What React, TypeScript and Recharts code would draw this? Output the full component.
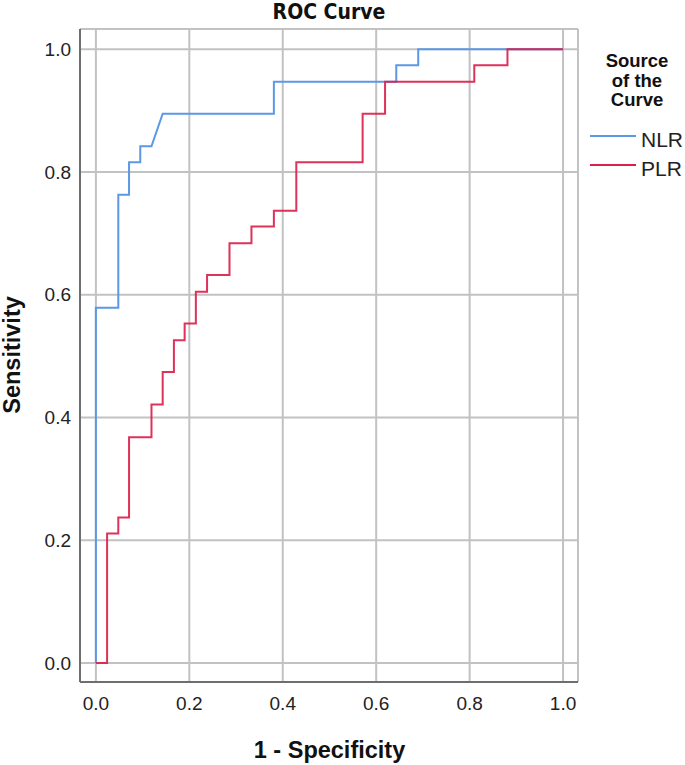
import { LineChart, Line, XAxis, YAxis, CartesianGrid } from 'recharts';

// ROC curve corner points (1 - specificity, sensitivity)
const nlrFpr = [0, 0, 0.048, 0.048, 0.071, 0.071, 0.095, 0.095, 0.119, 0.143, 0.381, 0.381, 0.643, 0.643, 0.69, 0.69, 1];
const nlrTpr = [0, 0.579, 0.579, 0.763, 0.763, 0.816, 0.816, 0.842, 0.842, 0.895, 0.895, 0.947, 0.947, 0.974, 0.974, 1, 1];

const plrFpr = [
  0, 0.024, 0.024, 0.048, 0.048, 0.071, 0.071, 0.119, 0.119, 0.143, 0.143, 0.167, 0.167, 0.19, 0.19, 0.214, 0.214, 0.238,
  0.238, 0.286, 0.286, 0.333, 0.333, 0.381, 0.381, 0.429, 0.429, 0.571, 0.571, 0.619, 0.619, 0.81, 0.81, 0.881, 0.881, 1,
];
const plrTpr = [
  0, 0, 0.211, 0.211, 0.237, 0.237, 0.368, 0.368, 0.421, 0.421, 0.474, 0.474, 0.526, 0.526, 0.553, 0.553, 0.605, 0.605,
  0.632, 0.632, 0.684, 0.684, 0.711, 0.711, 0.737, 0.737, 0.816, 0.816, 0.895, 0.895, 0.947, 0.947, 0.974, 0.974, 1, 1,
];

const axisTicks = [0, 0.2, 0.4, 0.6, 0.8, 1];
const legendTitle = ['Source', 'of the', 'Curve'];
const seriesNames = ['NLR', 'PLR'];

const BLUE = '#5b98e6';
const RED = '#dc1f4b';
const SANS = '"Liberation Sans", Arial, sans-serif';

const nlrData = nlrFpr.map((x, i) => ({ x, y: nlrTpr[i] }));
const plrData = plrFpr.map((x, i) => ({ x, y: plrTpr[i] }));

export default function App() {
  const tickStyle = { fontSize: 19, fill: '#222', fontFamily: SANS };
  return (
    <div style={{ position: 'absolute', left: 0, top: 0, width: 685, height: 765, background: '#fff' }}>
      <LineChart width={685} height={765} margin={{ top: 29, right: 107, bottom: 0, left: 0 }}>
        <CartesianGrid stroke="#c2c2c2" strokeWidth={2} />
        <XAxis
          dataKey="x"
          type="number"
          domain={[-0.034, 1.032]}
          ticks={axisTicks}
          tickFormatter={(v: number) => v.toFixed(1)}
          allowDataOverflow
          height={83}
          tickLine={false}
          tickMargin={9}
          axisLine={{ stroke: '#6e6e6e', strokeWidth: 2 }}
          tick={tickStyle}
        />
        <YAxis
          dataKey="y"
          type="number"
          domain={[-0.031, 1.033]}
          ticks={axisTicks}
          tickFormatter={(v: number) => v.toFixed(1)}
          allowDataOverflow
          width={80}
          tickLine={false}
          tickMargin={3}
          axisLine={{ stroke: '#6e6e6e', strokeWidth: 2 }}
          tick={tickStyle}
        />
        <Line data={nlrData} dataKey="y" type="linear" stroke={BLUE} strokeWidth={2} dot={false} isAnimationActive={false} />
        <Line data={plrData} dataKey="y" type="linear" stroke={RED} strokeWidth={2} strokeOpacity={0.92} dot={false} isAnimationActive={false} />
      </LineChart>
      <svg width={685} height={765} style={{ position: 'absolute', left: 0, top: 0, pointerEvents: 'none' }}>
        <text
          x={329}
          y={18.5}
          textAnchor="middle"
          fontFamily='"DejaVu Sans Condensed", "DejaVu Sans", sans-serif'
          fontWeight="bold"
          fontSize={21}
          fill="#111"
        >
          ROC Curve
        </text>
        <text x={329.5} y={757.5} textAnchor="middle" fontFamily={SANS} fontWeight="bold" fontSize={23.5} fill="#111">
          1 - Specificity
        </text>
        <text
          transform="translate(19.5,355) rotate(-90)"
          textAnchor="middle"
          fontFamily={SANS}
          fontWeight="bold"
          fontSize={23.5}
          fill="#111"
        >
          Sensitivity
        </text>
        {legendTitle.map((t, i) => (
          <text key={t} x={637} y={67 + i * 19.5} textAnchor="middle" fontFamily={SANS} fontWeight="bold" fontSize={18.5} fill="#111">
            {t}
          </text>
        ))}
        {seriesNames.map((name, i) => (
          <g key={name}>
            <line x1={590} x2={636} y1={136 + i * 29} y2={136 + i * 29} stroke={i === 0 ? BLUE : RED} strokeWidth={2} />
            <text x={641} y={147 + i * 29} fontFamily={SANS} fontSize={21} fill="#222">
              {name}
            </text>
          </g>
        ))}
      </svg>
    </div>
  );
}
